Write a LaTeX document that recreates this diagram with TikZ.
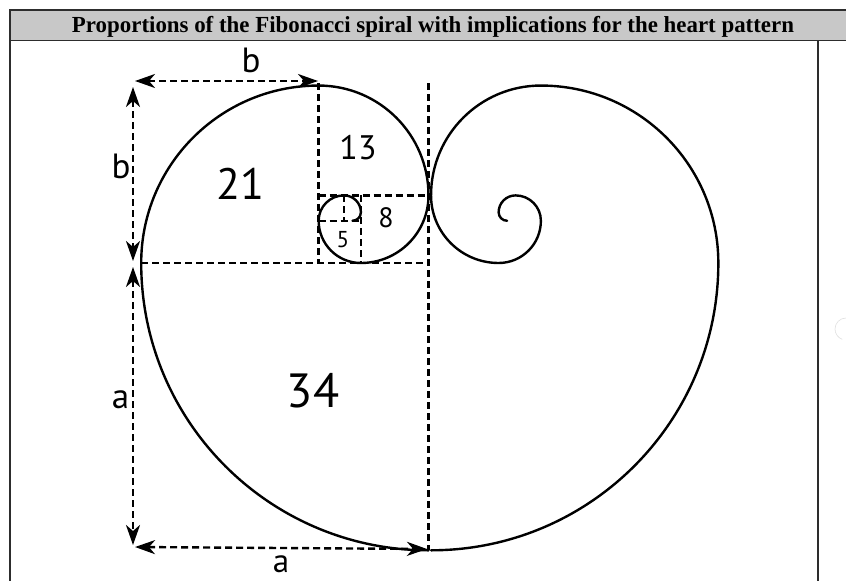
\documentclass[tikz,border=0pt]{standalone}
\usepackage{fontspec}
\setmainfont{Liberation Serif}
\newfontfamily\lblfont{PT Sans}
\usetikzlibrary{arrows.meta}
\definecolor{hdrgray}{RGB}{200,200,200}
\definecolor{framec}{RGB}{45,45,45}
\tikzset{
  spiralline/.style={line width=2.4pt, line cap=round},
  guide/.style={line width=2.4pt, dash pattern=on 7pt off 4pt},
  dimline/.style={guide, {Stealth[length=20pt,width=14pt,inset=6pt]}-{Stealth[length=20pt,width=14pt,inset=6pt]}},
  lbl/.style={font=\lblfont, inner sep=0pt},
}
\begin{document}
\begin{tikzpicture}[x=1pt,y=-1pt]
\useasboundingbox (0,0) rectangle (846,581);
\fill[white] (0,0) rectangle (846,581);
% header and frame
\fill[hdrgray] (9.5,10) rectangle (846,41);
\draw[framec, line width=1.2pt] (9.5,10) -- (846,10);
\draw[framec, line width=1.5pt] (9.5,40.5) -- (846,40.5);
\draw[framec, line width=2pt] (9.5,9) -- (9.5,581);
\draw[framec, line width=1.5pt] (818,40.5) -- (818,581);
\node[font=\bfseries\fontsize{23}{25}\selectfont, inner sep=0pt] (title) at (433,26.5)
  {\resizebox{722pt}{\height}{Proportions of the Fibonacci spiral with implications for the heart pattern}};
% faint watermark
\draw[black!12, line width=0.6pt] (846,318) arc[start angle=-90, end angle=-250, radius=11];
% spiral and squares
\begin{scope}[shift={(428.5pt,-263pt)}, x=8.45pt, y=8.45pt]
  \draw[guide] (0,21.3) -- (0,-34);
  \draw[guide] (-34,0) -- (0,0);
  \draw[guide] (-13,21.3) -- (-13,0);
  \draw[guide] (-13,8) -- (0,8);
  \draw[guide] (-8,8) -- (-8,0);
  \draw[guide] (-13,5) -- (-8,5);
  \draw[guide] (-10,8) -- (-10,5);
  % left spiral
  \draw[spiralline] (0,-34) arc[start angle=-90, end angle=-180, radius=34]
    arc[start angle=180, end angle=90, radius=21]
    arc[start angle=90, end angle=0, radius=13]
    arc[start angle=0, end angle=-90, radius=8]
    arc[start angle=-90, end angle=-180, radius=5]
    arc[start angle=180, end angle=90, radius=3]
    arc[start angle=90, end angle=0, radius=2]
    arc[start angle=0, end angle=-90, radius=1];
  % right spiral (mirror)
  \draw[spiralline] (0.3,-34) arc[start angle=-90, end angle=0, radius=34]
    arc[start angle=0, end angle=90, radius=21]
    arc[start angle=90, end angle=180, radius=13]
    arc[start angle=180, end angle=270, radius=8]
    arc[start angle=270, end angle=360, radius=5]
    arc[start angle=0, end angle=90, radius=3]
    arc[start angle=90, end angle=180, radius=2]
    arc[start angle=180, end angle=270, radius=1];
\end{scope}
% dimension arrows
\coordinate (bt1) at (135,81);
\coordinate (bt2) at (318,81);
\coordinate (bl1) at (133,87);
\coordinate (bl2) at (133,261);
\coordinate (al1) at (133,267);
\coordinate (al2) at (133,545);
\coordinate (ab1) at (135,547);
\coordinate (ab2) at (427,549);
\draw[dimline] (bt1) -- (bt2);
\draw[dimline] (bl1) -- (bl2);
\draw[dimline] (al1) -- (al2);
\draw[dimline] (ab1) -- (ab2);
% labels
\node[lbl, font=\lblfont\fontsize{35}{38}\selectfont] (btop) at (251,60) {b};
\node[lbl, font=\lblfont\fontsize{35}{38}\selectfont] (bleft) at (121,166) {b};
\node[lbl, font=\lblfont\fontsize{35}{38}\selectfont] (aleft) at (120.5,400) {a};
\node[lbl, font=\lblfont\fontsize{33}{36}\selectfont, anchor=base] (abot) at (281,572) {a};
\node[lbl, font=\lblfont\fontsize{44}{48}\selectfont] (n21) at (240,184) {21};
\node[lbl, font=\lblfont\fontsize{34}{38}\selectfont] (n13) at (358,148) {13};
\node[lbl, font=\lblfont\fontsize{28}{30}\selectfont] (n8) at (386,218) {8};
\node[lbl, font=\lblfont\fontsize{23}{25}\selectfont] (n5) at (343,240) {5};
\node[lbl, font=\lblfont\fontsize{48}{52}\selectfont] (n34) at (313,391) {34};
\end{tikzpicture}
\end{document}
